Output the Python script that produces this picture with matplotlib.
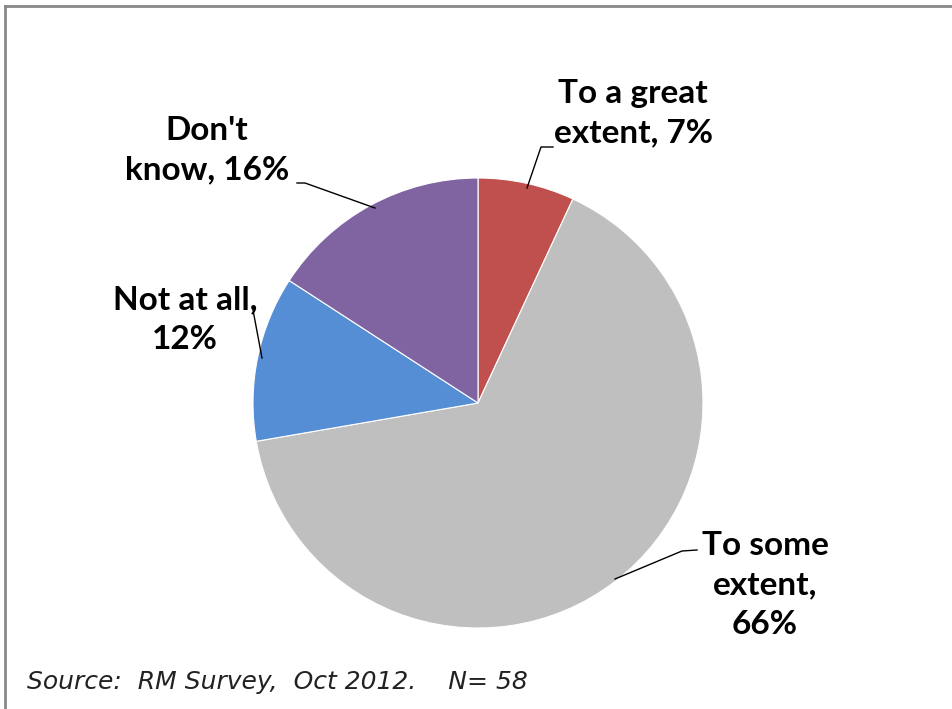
import matplotlib
matplotlib.use("Agg")
import matplotlib.pyplot as plt

categories = ["To a great extent", "To some extent", "Not at all", "Don't know"]
values = [7, 66, 12, 16]
label_texts = ["To a great\nextent, 7%", "To some\nextent,\n66%", "Not at all,\n12%", "Don't\nknow, 16%"]
colors = ["#C0504D", "#BFBFBF", "#558ED5", "#8064A2"]
source = "Source:  RM Survey,  Oct 2012.    N= 58"

W, H = 952, 709
fig = plt.figure(figsize=(W / 100, H / 100), dpi=100)
ax = fig.add_axes([0, 0, 1, 1])

def Y(y):
    return H - y

cx, cy, r = 478, Y(403), 225
ax.pie(values, colors=colors, startangle=90, counterclock=False, center=(cx, cy), radius=r,
       wedgeprops=dict(edgecolor="white", linewidth=0.8), frame=True)
ax.set_xlim(0, W)
ax.set_ylim(0, H)
ax.set_aspect("equal")
ax.axis("off")

font = dict(family=["Lato", "DejaVu Sans"], fontweight="bold", fontsize=24, color="black",
            ha="center", va="center", linespacing=1.45)

pos = [(633, 113), (765, 585), (185, 320), (207, 150)]
for (x, y), t in zip(pos, label_texts):
    ax.text(x, Y(y), t, **font)

leaders = [
    [(553, 147), (541, 147), (527, 188)],
    [(697, 550), (682, 551), (615, 579)],
    [(253, 310), (262, 358)],
    [(297, 183), (305, 183), (375, 208)],
]
for pts in leaders:
    xs = [p[0] for p in pts]
    ys = [Y(p[1]) for p in pts]
    ax.plot(xs, ys, color="black", lw=1.0)

ax.text(27, Y(682), source, family=["DejaVu Sans"], style="italic",
        fontsize=18, color="#222222", ha="left", va="center")

ax.plot([5, W], [Y(6), Y(6)], color="#888888", lw=2)
ax.plot([5, 5], [0, Y(6)], color="#888888", lw=2)

fig.savefig("out.png", dpi=100, facecolor="white")
